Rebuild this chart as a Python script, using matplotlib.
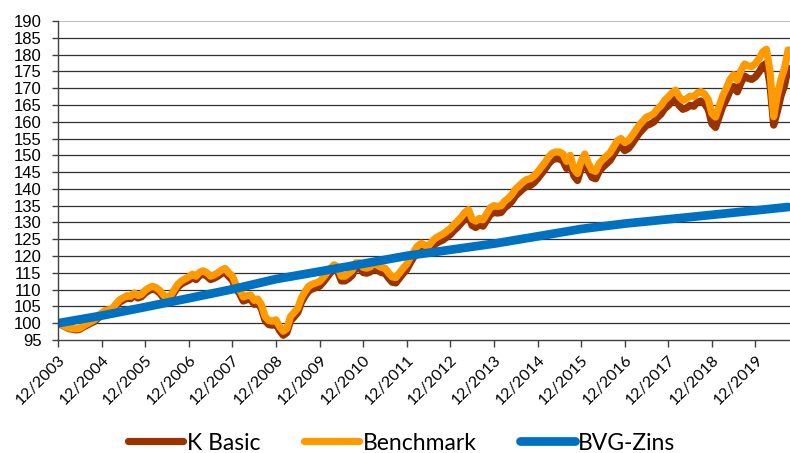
import numpy as np
import matplotlib
matplotlib.use("Agg")
import matplotlib.pyplot as plt

# monthly values, index 0 = 12/2003
benchmark = [
    100.0, 99.6, 99.0, 98.6, 98.4, 98.3, 98.5, 99.2, 99.8, 100.4, 101.0, 102.0,
    103.0, 103.8, 104.0, 104.5, 105.8, 107.0, 107.6, 108.2, 108.0, 109.0, 108.2, 108.6,
    109.8, 110.5, 111.0, 110.6, 109.8, 108.4, 107.6, 108.2, 110.0, 111.6, 112.6, 113.2,
    113.8, 114.6, 114.0, 115.2, 115.6, 115.0, 114.0, 114.4, 115.0, 115.8, 116.3, 115.0,
    114.0, 111.5, 110.0, 107.8, 108.2, 108.4, 106.8, 107.2, 105.5, 102.0, 100.8, 100.6,
    101.0, 99.0, 97.6, 98.4, 102.0, 103.2, 104.5, 107.5, 109.4, 111.0, 111.6, 112.0,
    112.4, 113.6, 115.0, 116.4, 117.4, 116.8, 114.0, 114.0, 114.8, 115.8, 118.0, 118.0,
    116.6, 116.4, 116.8, 118.0, 117.2, 116.6, 116.4, 115.0, 113.8, 113.6, 115.0, 116.4,
    117.6, 119.6, 121.4, 123.0, 123.8, 123.2, 123.0, 124.4, 125.4, 126.0, 126.6, 127.4,
    128.2, 129.4, 130.4, 131.6, 133.0, 133.8, 131.0, 130.4, 131.2, 130.8, 132.6, 134.4,
    135.0, 134.8, 135.0, 136.4, 137.2, 138.4, 140.0, 141.0, 142.0, 142.8, 143.0, 143.8,
    145.0, 146.4, 147.8, 149.4, 150.6, 151.0, 151.0, 150.4, 148.2, 150.0, 146.0, 144.6,
    148.2, 150.4, 147.6, 145.6, 145.2, 147.6, 148.8, 149.8, 150.8, 152.6, 154.4, 155.0,
    153.8, 154.4, 155.8, 157.4, 159.0, 160.2, 161.4, 161.8, 162.4, 163.8, 164.8, 166.4,
    167.4, 168.6, 169.4, 167.4, 166.4, 166.8, 167.6, 167.4, 168.6, 169.0, 168.2, 166.6,
    162.4, 161.4, 164.6, 167.8, 170.0, 172.6, 174.0, 172.4, 175.2, 177.2, 176.6, 176.4,
    177.4, 178.8, 180.8, 181.6, 175.0, 161.5, 167.8, 172.6, 176.0, 181.4,
]

k_basic = [
    100.0, 99.5, 98.9, 98.4, 98.2, 98.0, 98.2, 98.9, 99.4, 100.0, 100.5, 101.5,
    102.4, 103.2, 103.4, 103.9, 105.2, 106.3, 106.9, 107.5, 107.3, 108.3, 107.5, 107.9,
    109.0, 109.7, 110.2, 109.8, 109.0, 107.6, 106.8, 107.4, 109.2, 110.8, 111.7, 112.3,
    112.8, 113.6, 113.0, 114.2, 114.6, 114.0, 113.0, 113.4, 114.0, 114.8, 115.2, 113.9,
    112.8, 110.3, 108.8, 106.6, 107.0, 107.2, 105.6, 106.0, 104.3, 100.8, 99.6, 99.4,
    99.8, 97.8, 96.4, 97.2, 100.7, 101.9, 103.2, 106.2, 108.1, 109.6, 110.2, 110.6,
    111.0, 112.2, 113.6, 115.0, 116.0, 115.4, 112.6, 112.6, 113.3, 114.3, 116.5, 116.5,
    115.1, 114.9, 115.3, 116.5, 115.7, 115.1, 114.9, 113.4, 112.2, 112.0, 113.4, 114.8,
    116.0, 118.0, 119.8, 121.4, 122.1, 121.5, 121.3, 122.7, 123.7, 124.3, 124.8, 125.6,
    126.4, 127.6, 128.6, 129.8, 131.1, 131.9, 129.1, 128.5, 129.3, 128.9, 130.6, 132.4,
    133.0, 132.8, 133.0, 134.4, 135.2, 136.4, 138.0, 139.0, 140.0, 140.8, 141.0, 141.8,
    143.0, 144.4, 145.8, 147.4, 148.6, 149.0, 149.0, 148.3, 146.1, 147.9, 143.9, 142.5,
    146.0, 148.2, 145.4, 143.4, 143.0, 145.3, 146.5, 147.5, 148.5, 150.3, 152.1, 152.7,
    151.4, 152.0, 153.4, 155.0, 156.6, 157.8, 158.9, 159.3, 159.9, 161.3, 162.3, 163.9,
    164.8, 166.0, 166.8, 164.8, 163.7, 164.1, 164.9, 164.6, 165.8, 166.2, 165.3, 163.7,
    159.4, 158.3, 161.5, 164.6, 166.7, 169.2, 170.5, 168.9, 171.6, 173.6, 172.9, 172.6,
    173.4, 174.8, 176.7, 177.4, 171.0, 159.0, 163.0, 167.6, 170.8, 175.9,
]

# BVG-Zins index at year ends (month index) plus the last month
bvg_month = [0, 12, 24, 36, 48, 60, 72, 84, 96, 108, 120, 132, 144, 156, 168, 180, 192, 201]
bvg_value = [100.0, 102.25, 104.81, 107.43, 110.11, 113.14, 115.40, 117.71, 120.06,
             121.86, 123.69, 125.86, 128.06, 129.66, 130.96, 132.27, 133.59, 134.6]

tick_labels = ["12/%d" % y for y in range(2003, 2020)]
months = np.arange(len(benchmark))

fig = plt.figure(figsize=(7.9, 4.53), dpi=100)
ax = fig.add_axes([58 / 790, 1 - 340 / 453, 1 - 58 / 790, (340 - 21) / 453])

ax.plot(months, k_basic, color="#993300", lw=5.2, solid_capstyle="round",
        solid_joinstyle="round", label="K Basic")
ax.plot(months, benchmark, color="#FF9900", lw=5.2, solid_capstyle="round",
        solid_joinstyle="round", label="Benchmark")
ax.plot(bvg_month, bvg_value, color="#0070C0", lw=6.3, solid_capstyle="round",
        solid_joinstyle="round", label="BVG-Zins")

ax.set_ylim(95, 190)
ax.set_yticks(np.arange(95, 191, 5))
ax.set_xlim(0, 201.5)
ax.set_xticks(np.arange(0, 193, 12))
ax.set_xticklabels(tick_labels, rotation=45, ha="right", rotation_mode="anchor",
                   fontfamily="Lato", fontsize=11.5)
for lbl in ax.get_yticklabels():
    lbl.set_fontfamily("Liberation Sans")
    lbl.set_fontsize(12)

ax.grid(axis="y", color="#303030", lw=0.9)
ax.set_axisbelow(True)
ax.get_ygridlines()[-1].set_color("#BFBFBF")
ax.get_ygridlines()[-1].set_linewidth(1.5)
ax.get_ygridlines()[0].set_visible(False)

for s in ["top", "right"]:
    ax.spines[s].set_visible(False)
for s in ["left", "bottom"]:
    ax.spines[s].set_color("#404040")
    ax.spines[s].set_linewidth(1.0)
ax.tick_params(axis="y", length=4.3, width=1, color="#404040", pad=7.5)
ax.tick_params(axis="x", length=5, width=1, color="#404040", pad=4)

fig.legend(loc="center", bbox_to_anchor=(402 / 790, 1 - 443 / 453), ncol=3,
           frameon=False, prop={"family": "Lato", "size": 16.5},
           handlelength=2.4, handletextpad=0.15, columnspacing=1.9)

fig.savefig("out.png", dpi=100)
